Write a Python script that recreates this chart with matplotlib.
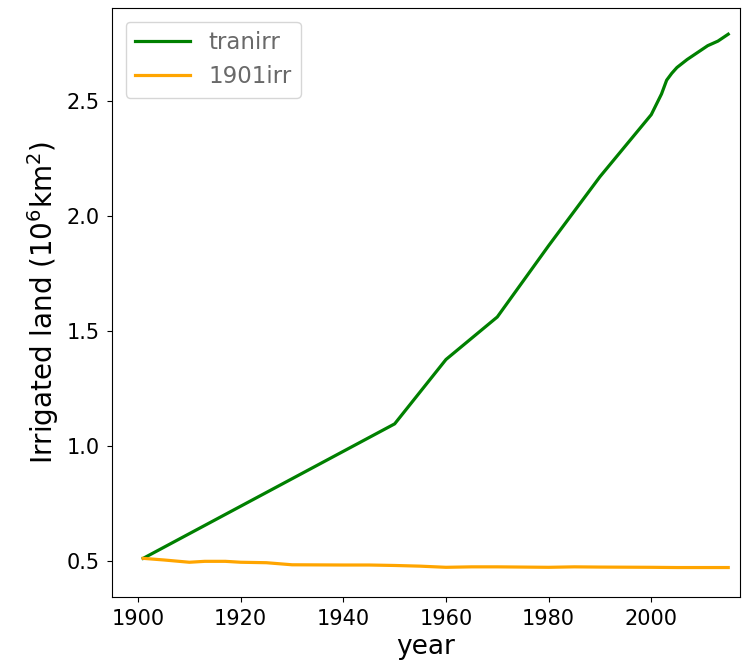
import matplotlib
matplotlib.use('Agg')
import matplotlib.pyplot as plt

# tranirr series
years_tran = [1901, 1950, 1960, 1970, 1980, 1990, 2000, 2002, 2003, 2004, 2005,
              2007, 2009, 2010, 2011, 2013, 2015]
tranirr = [0.51, 1.095, 1.375, 1.56, 1.87, 2.17, 2.44, 2.53, 2.59, 2.62, 2.645,
           2.68, 2.71, 2.725, 2.74, 2.76, 2.79]

# 1901irr series
years_1901 = [1901, 1905, 1910, 1913, 1917, 1920, 1925, 1930, 1940, 1945, 1950,
              1955, 1960, 1965, 1970, 1980, 1985, 1990, 2000, 2005, 2015]
irr1901 = [0.51, 0.503, 0.493, 0.497, 0.497, 0.493, 0.491, 0.482, 0.481, 0.481, 0.479,
           0.476, 0.471, 0.473, 0.473, 0.471, 0.473, 0.472, 0.471, 0.47, 0.47]

fig, ax = plt.subplots(figsize=(7.46, 6.66), dpi=100)
ax.plot(years_tran, tranirr, color='green', lw=2.3, label='tranirr')
ax.plot(years_1901, irr1901, color='orange', lw=2.3, label='1901irr')

ax.set_xlabel('year', fontsize=19)
ax.set_ylabel(r'Irrigated land ($10^6$km$^2$)', fontsize=20)
ax.tick_params(labelsize=15, pad=5)
ax.set_yticks([0.5, 1.0, 1.5, 2.0, 2.5])
ax.set_xlim(1894.9, 2017.3)
ax.set_ylim(0.343, 2.904)

leg = ax.legend(fontsize=16.5, loc='upper left', handlelength=2.4,
                borderaxespad=0.6)
for t in leg.get_texts():
    t.set_color('dimgray')

fig.subplots_adjust(left=0.15, right=0.992, top=0.988, bottom=0.104)
fig.savefig('out.png')
